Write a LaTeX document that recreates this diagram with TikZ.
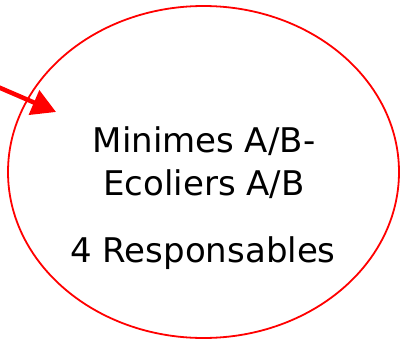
\documentclass[tikz,border=0pt]{standalone}
\usepackage{fontspec}
\setmainfont{DejaVu Sans}
\usetikzlibrary{arrows.meta,shapes.geometric}
\begin{document}
\begin{tikzpicture}[x=1pt,y=-1pt,
  bubble/.style={draw=red, line width=1.8pt, ellipse, minimum width=391pt, minimum height=332pt, inner sep=0pt},
  lbl/.style={anchor=base, inner sep=0pt, font=\fontsize{34}{40}\selectfont},
  pointer/.style={draw=red, line width=4.5pt, -{Triangle[length=24pt,width=26pt]}}]
\useasboundingbox (0,0) rectangle (405,343);
\node[bubble] (e) at (203.5,172) {};
\node[lbl] (l1) at (204,152) {Minimes A/B-};
\node[lbl] (l2) at (204,195) {Ecoliers A/B};
\node[lbl] (l3) at (203,262) {4 Responsables};
\coordinate (s) at (-2,87);
\coordinate (t) at (56,112);
\draw[pointer] (s) -- (t);
\end{tikzpicture}
\end{document}
